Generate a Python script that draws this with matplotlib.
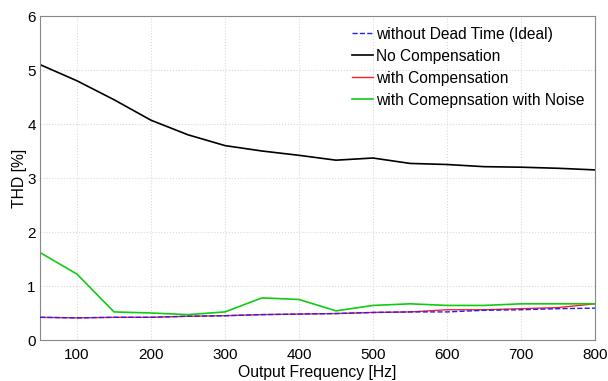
import matplotlib
matplotlib.use("Agg")
import matplotlib.pyplot as plt

plt.rcParams['font.family'] = ['Liberation Sans', 'DejaVu Sans']

freq = [50, 100, 150, 200, 250, 300, 350, 400, 450, 500, 550, 600, 650, 700, 750, 800]
ideal = [0.42, 0.41, 0.42, 0.42, 0.44, 0.45, 0.47, 0.48, 0.49, 0.51, 0.52, 0.52, 0.55, 0.56, 0.58, 0.59]
no_comp = [5.1, 4.8, 4.45, 4.07, 3.8, 3.6, 3.5, 3.42, 3.33, 3.37, 3.27, 3.25, 3.21, 3.2, 3.18, 3.15]
with_comp = [0.42, 0.41, 0.42, 0.42, 0.44, 0.45, 0.47, 0.48, 0.49, 0.51, 0.52, 0.56, 0.56, 0.58, 0.6, 0.67]
with_noise = [1.62, 1.22, 0.52, 0.5, 0.47, 0.52, 0.78, 0.75, 0.54, 0.64, 0.67, 0.64, 0.64, 0.67, 0.67, 0.67]

fig = plt.figure(figsize=(6.08, 3.81), dpi=100)
ax = fig.add_axes([40/608, 41/381, 555/608, 324/381])

ax.plot(freq, ideal, color='#2020ff', linestyle='--', lw=1.0, label='without Dead Time (Ideal)', zorder=3)
ax.plot(freq, no_comp, color='black', lw=1.2, label='No Compensation')
ax.plot(freq, with_comp, color='#ff2020', lw=1.0, label='with Compensation', zorder=2)
ax.plot(freq, with_noise, color='#10cc10', lw=1.2, label='with Comepnsation with Noise')

ax.set_xlim(50, 800)
ax.set_ylim(0, 6)
ax.set_xticks([100, 200, 300, 400, 500, 600, 700, 800])
ax.set_yticks([0, 1, 2, 3, 4, 5, 6])
ax.grid(True, color='#d8d8d8', linestyle=':', lw=0.8)
for s in ax.spines.values():
    s.set_color('#888888')
ax.tick_params(axis='x', length=0, labelsize=11, pad=6)
ax.tick_params(axis='y', length=0, labelsize=11, pad=3)
ax.set_xlabel('Output Frequency [Hz]', fontsize=11.3, labelpad=2)
ax.set_ylabel('THD [%]', fontsize=11.3, labelpad=0)

leg = ax.legend(loc='upper right', frameon=False, fontsize=11.2, handlelength=1.4,
                handletextpad=0.15, labelspacing=0.45, borderaxespad=0.3,
                bbox_to_anchor=(1.0, 1.0))

fig.savefig('out.png', dpi=100)
